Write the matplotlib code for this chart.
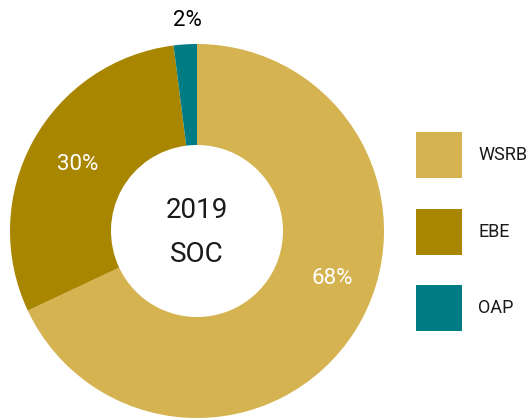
import matplotlib
matplotlib.use("Agg")
import matplotlib.pyplot as plt
from matplotlib import font_manager
from matplotlib.patches import Rectangle

categories = ["WSRB", "EBE", "OAP"]
shares = [68, 30, 2]
colors = ["#D5B351", "#A98600", "#007C84"]
center_lines = ["2019", "SOC"]

names = {f.name for f in font_manager.fontManager.ttflist}
family = "Roboto" if "Roboto" in names else "DejaVu Sans"
plt.rcParams["font.family"] = [family, "DejaVu Sans"]

W, H = 529, 418
fig = plt.figure(figsize=(W / 100, H / 100), dpi=100)
ax = fig.add_axes([0, 0, 1, 1])

cx, cy = 197, H - 231
r_out, r_in = 187, 86
ax.pie(
    shares,
    colors=colors,
    startangle=90,
    counterclock=False,
    center=(cx, cy),
    radius=r_out,
    wedgeprops=dict(width=r_out - r_in, linewidth=0),
    frame=True,
)
ax.set_xlim(0, W)
ax.set_ylim(0, H)
ax.set_aspect("equal")
ax.axis("off")

# percentage labels
label_pos = [(332, H - 278), (78, H - 164), (187, H - 20)]
label_col = ["white", "white", "black"]
for val, (x, y), c in zip(shares, label_pos, label_col):
    ax.text(x, y, f"{val}%", ha="center", va="center", fontsize=16, color=c)

ax.text(cx, H - 210, center_lines[0], ha="center", va="center", fontsize=20, color="#1a1a1a")
ax.text(cx, H - 254, center_lines[1], ha="center", va="center", fontsize=20, color="#1a1a1a")

# legend
leg_y = [155, 232, 308]
for name, col, y in zip(categories, colors, leg_y):
    ax.add_patch(Rectangle((416, H - y - 23), 46, 46, facecolor=col, edgecolor="none"))
    ax.text(478, H - y, name, ha="left", va="center", fontsize=13, color="#1a1a1a")

fig.savefig("out.png", dpi=100)
